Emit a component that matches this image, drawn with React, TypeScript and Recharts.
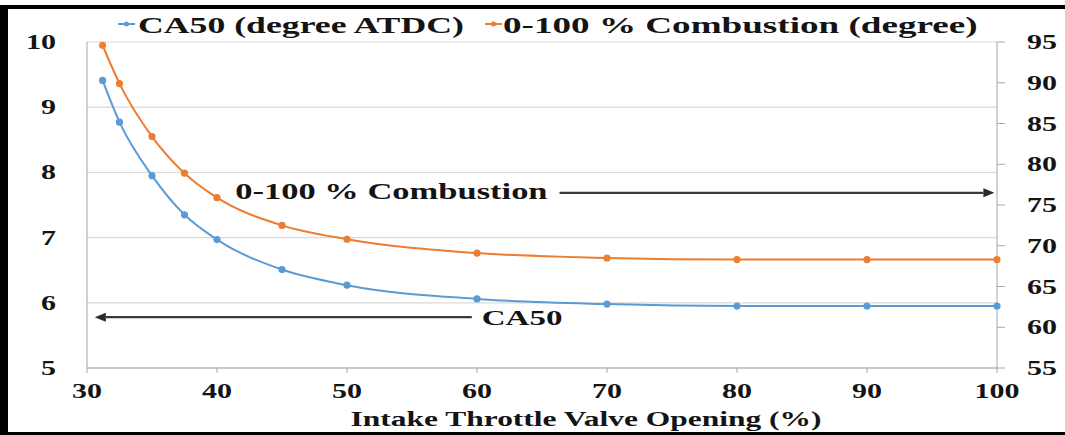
import React from "react";
import { LineChart, Line, XAxis, YAxis, CartesianGrid, Legend, ReferenceLine } from "recharts";

// valores
const throttle = [31.2, 32.5, 35, 37.5, 40, 45, 50, 60, 70, 80, 90, 100];
const ca50 = [9.41, 8.77, 7.95, 7.35, 6.97, 6.51, 6.27, 6.06, 5.98, 5.95, 5.95, 5.95];
const combustion = [94.6, 89.9, 83.4, 78.9, 75.9, 72.5, 70.8, 69.1, 68.5, 68.3, 68.3, 68.3];

const xTicks = [30, 40, 50, 60, 70, 80, 90, 100];
const leftTicks = [5, 6, 7, 8, 9, 10];
const rightTicks = [55, 60, 65, 70, 75, 80, 85, 90, 95];

const seriesNames = ["CA50 (degree ATDC)", "0-100 % Combustion (degree)"];
const seriesColors = ["#5b9bd5", "#ed7d31"];

const FONT = "'Liberation Serif', 'Times New Roman', serif";
const TEXT = "#141414";

const data = throttle.map((x, i) => ({ x, ca50: ca50[i], comb: combustion[i] }));

// texto ensanchado (la figura original está estirada en horizontal)
const SText = ({ x, y, anchor = "start", size, sx = 1.5, children }: any) => (
  <g transform={`translate(${x},${y}) scale(${sx},1)`}>
    <text x={0} y={0} textAnchor={anchor} fontFamily={FONT} fontWeight="bold" fontSize={size} fill={TEXT}>
      {children}
    </text>
  </g>
);

const LeftTick = ({ x, y, payload }: any) => (
  <SText x={x} y={y + 7} anchor="end" size={20}>{payload.value}</SText>
);
const RightTick = ({ x, y, payload }: any) => (
  <SText x={x} y={y + 7} anchor="start" size={20}>{payload.value}</SText>
);
const BottomTick = ({ x, y, payload }: any) => (
  <SText x={x} y={y + 22} anchor="middle" size={20}>{payload.value}</SText>
);

const renderLegend = () => {
  const iconX = [118, 485];
  const textX = [138, 503];
  const stretch = [1.52, 1.58];
  return (
    <svg width={1065} height={40} style={{ display: "block" }}>
      {seriesNames.map((name, i) => (
        <g key={name}>
          <line x1={iconX[i]} x2={iconX[i] + 17} y1={24} y2={24} stroke={seriesColors[i]} strokeWidth={2} />
          <circle cx={iconX[i] + 8.5} cy={24} r={2.5} fill={seriesColors[i]} />
          <SText x={textX[i]} y={33} size={23.5} sx={stretch[i]}>{name}</SText>
        </g>
      ))}
    </svg>
  );
};

const arrowShape = (label: string, textSide: "left" | "right") => (props: any) => {
  const { x1, y1, x2, y2 } = props;
  const dir = x2 > x1 ? 1 : -1;
  const headLen = 11;
  const tipX = x2;
  const baseX = x2 - dir * headLen;
  return (
    <g>
      <line x1={x1} y1={y1} x2={baseX} y2={y2} stroke="#3a3a3a" strokeWidth={2.2} />
      <polygon points={`${tipX},${y2} ${baseX},${y2 - 4.5} ${baseX},${y2 + 4.5}`} fill="#2a2a2a" />
      {textSide === "left" ? (
        <SText x={x1 - 12} y={y1 + 6} anchor="end" size={23}>{label}</SText>
      ) : (
        <SText x={x1 + 10} y={y1 + 8} anchor="start" size={22}>{label}</SText>
      )}
    </g>
  );
};

const XTitle = () => (
  <SText x={586} y={426} anchor="middle" size={21}>Intake Throttle Valve Opening (%)</SText>
);

export default function App() {
  return (
    <div style={{ position: "absolute", left: 0, top: 0, width: 1065, height: 435, background: "#fff" }}>
      <LineChart width={1065} height={435} data={data} margin={{ top: 2, right: 0, bottom: 0, left: 0 }}>
        <CartesianGrid yAxisId="left" vertical={false} stroke="#d9d9d9" strokeWidth={1.2} />
        <XAxis
          dataKey="x"
          type="number"
          domain={[30, 100]}
          ticks={xTicks}
          height={67}
          stroke="#a6a6a6"
          tickSize={5}
          tickMargin={3}
          tick={<BottomTick />}
          label={<XTitle />}
        />
        <YAxis
          yAxisId="left"
          orientation="left"
          domain={[5, 10]}
          ticks={leftTicks}
          width={87}
          stroke="#a6a6a6"
          tickLine={false}
          tickSize={0}
          tickMargin={31}
          tick={<LeftTick />}
        />
        <YAxis
          yAxisId="right"
          orientation="right"
          domain={[55, 95]}
          ticks={rightTicks}
          width={68}
          stroke="#a6a6a6"
          tickSize={8}
          tickMargin={22}
          tick={<RightTick />}
        />
        <Legend
          verticalAlign="top"
          align="left"
          content={renderLegend}
          wrapperStyle={{ top: 0, left: 0, width: 1065, height: 40 }}
        />
        <ReferenceLine
          yAxisId="right"
          segment={[{ x: 66.35, y: 76.5 }, { x: 99.8, y: 76.5 }]}
          shape={arrowShape("0-100 % Combustion", "left")}
        />
        <ReferenceLine
          yAxisId="left"
          segment={[{ x: 59.6, y: 5.78 }, { x: 30.6, y: 5.78 }]}
          shape={arrowShape("CA50", "right")}
        />
        <Line
          yAxisId="left"
          type="monotone"
          dataKey="ca50"
          name={seriesNames[0]}
          stroke={seriesColors[0]}
          strokeWidth={2}
          dot={{ r: 2.6, fill: seriesColors[0], stroke: seriesColors[0] }}
          isAnimationActive={false}
        />
        <Line
          yAxisId="right"
          type="monotone"
          dataKey="comb"
          name={seriesNames[1]}
          stroke={seriesColors[1]}
          strokeWidth={2}
          dot={{ r: 2.6, fill: seriesColors[1], stroke: seriesColors[1] }}
          isAnimationActive={false}
        />
      </LineChart>
      <div
        style={{
          position: "absolute",
          left: 0,
          top: 5,
          width: 1065,
          height: 430,
          boxSizing: "border-box",
          borderLeft: "8px solid #000",
          borderTop: "4px solid #000",
          borderBottom: "3px solid #000",
          pointerEvents: "none",
        }}
      />
    </div>
  );
}
